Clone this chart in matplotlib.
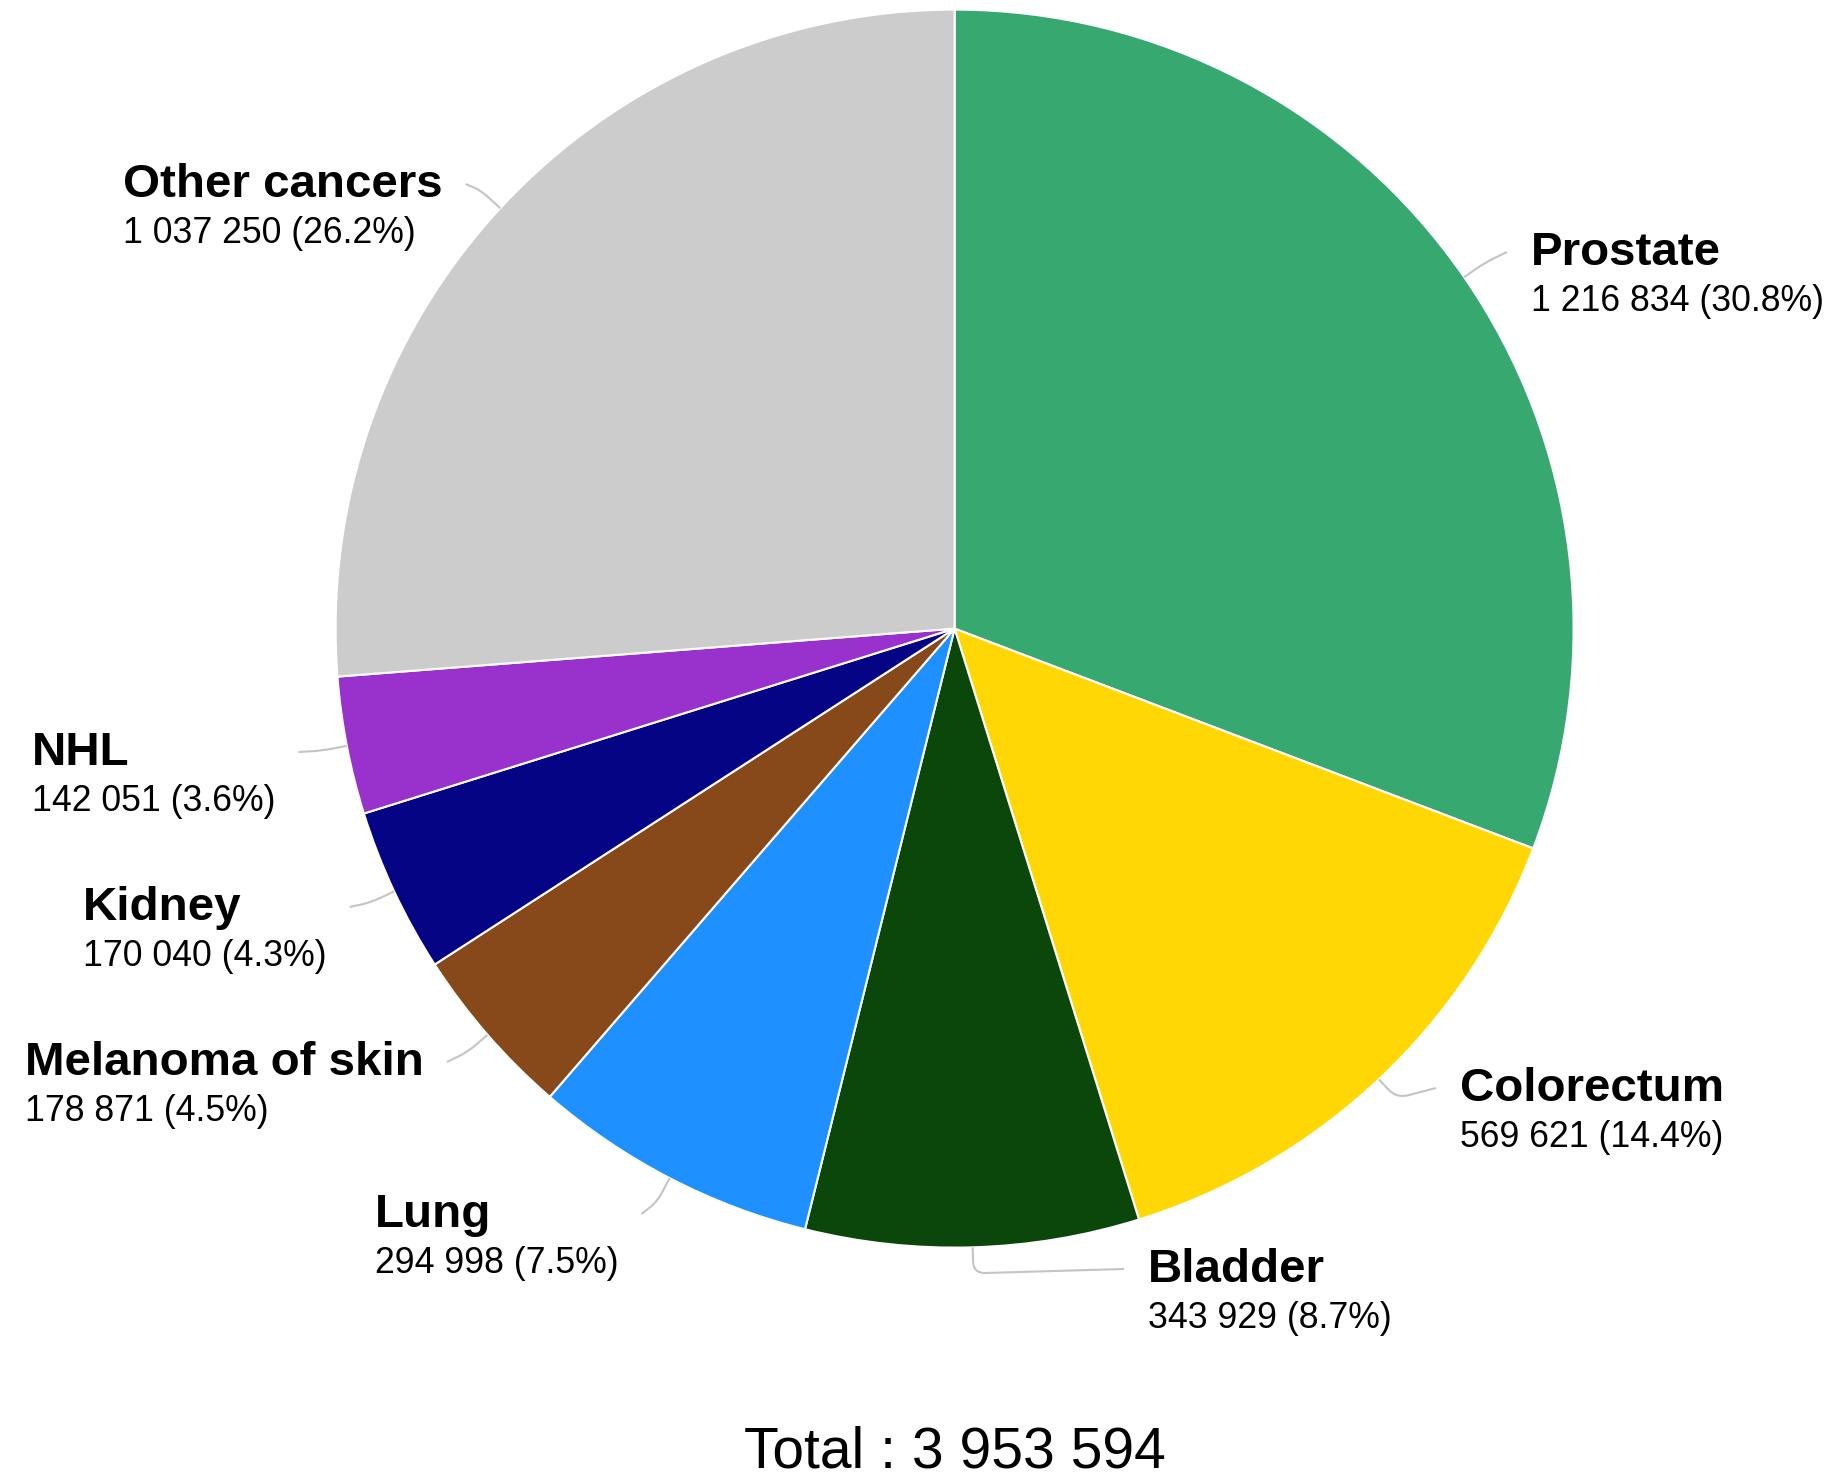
import numpy as np
import matplotlib
matplotlib.use("Agg")
import matplotlib.pyplot as plt
from matplotlib.path import Path
from matplotlib.patches import PathPatch

plt.rcParams['font.family'] = ['Liberation Sans', 'DejaVu Sans']

# data
sites = ['Prostate', 'Colorectum', 'Bladder', 'Lung', 'Melanoma of skin',
         'Kidney', 'NHL', 'Other cancers']
cases = [1216834, 569621, 343929, 294998, 178871, 170040, 142051, 1037250]
colors = ['#37a870', '#ffd705', '#0b470b', '#1f90ff', '#88491a',
          '#040484', '#9932cc', '#cccccc']

# label layout (pixels, measured from top-left)
label_x = [1531, 1460, 1148, 375, 25, 83, 32, 123]
label_base = [265, 1101, 1282, 1227, 1075, 920, 765, 197]
label_side = ['right', 'right', 'right', 'left', 'left', 'left', 'left', 'left']

W, H = 1832, 1477
fig = plt.figure(figsize=(W / 100, H / 100), dpi=100)
ax = fig.add_axes([0, 0, 1, 1])

cx, cy, r = 954.6, H - 628.6, 619
wedges, _ = ax.pie(cases, colors=colors, startangle=90, counterclock=False,
                   center=(cx, cy), radius=r,
                   wedgeprops=dict(edgecolor='white', linewidth=1.5))
ax.set_xlim(0, W)
ax.set_ylim(0, H)
ax.set_aspect('equal')
ax.axis('off')

total = sum(cases)
texts = []
for name, v, x, yb in zip(sites, cases, label_x, label_base):
    val = f"{v:,}".replace(',', ' ') + f" ({100 * v / total:.1f}%)"
    t1 = ax.text(x, H - yb, name, fontsize=34.2, fontweight='bold',
                 ha='left', va='baseline')
    t2 = ax.text(x, H - yb - 46, val, fontsize=25.7, ha='left', va='baseline')
    texts.append((t1, t2))

ax.text(cx, H - 1467, "Total : " + f"{total:,}".replace(',', ' '),
        fontsize=41, ha='center', va='baseline')

# leader lines
fig.canvas.draw()
renderer = fig.canvas.get_renderer()
inv = ax.transData.inverted()
L = 26
for w, (t1, t2), x, yb, side in zip(wedges, texts, label_x, label_base, label_side):
    th = np.deg2rad((w.theta1 + w.theta2) / 2)
    d = np.array([np.cos(th), np.sin(th)])
    p0 = np.array([cx, cy]) + r * d
    elbow = np.array([cx, cy]) + (r + L) * d
    if side == 'right':
        ex = x - 24
    else:
        right = max(inv.transform(t.get_window_extent(renderer))[1, 0] for t in (t1, t2))
        ex = right + 23
    end = np.array([ex, H - yb + 13])
    a = p0 + 0.55 * (elbow - p0)
    seg = end - elbow
    b = elbow + seg * min(0.4, 12 / max(np.hypot(*seg), 1e-6))
    path = Path([p0, a, elbow, b, end],
                [Path.MOVETO, Path.LINETO, Path.CURVE3, Path.CURVE3, Path.LINETO])
    ax.add_patch(PathPatch(path, facecolor='none', edgecolor='#c4c4c4', linewidth=1.5))

fig.savefig('out.png', dpi=100)
